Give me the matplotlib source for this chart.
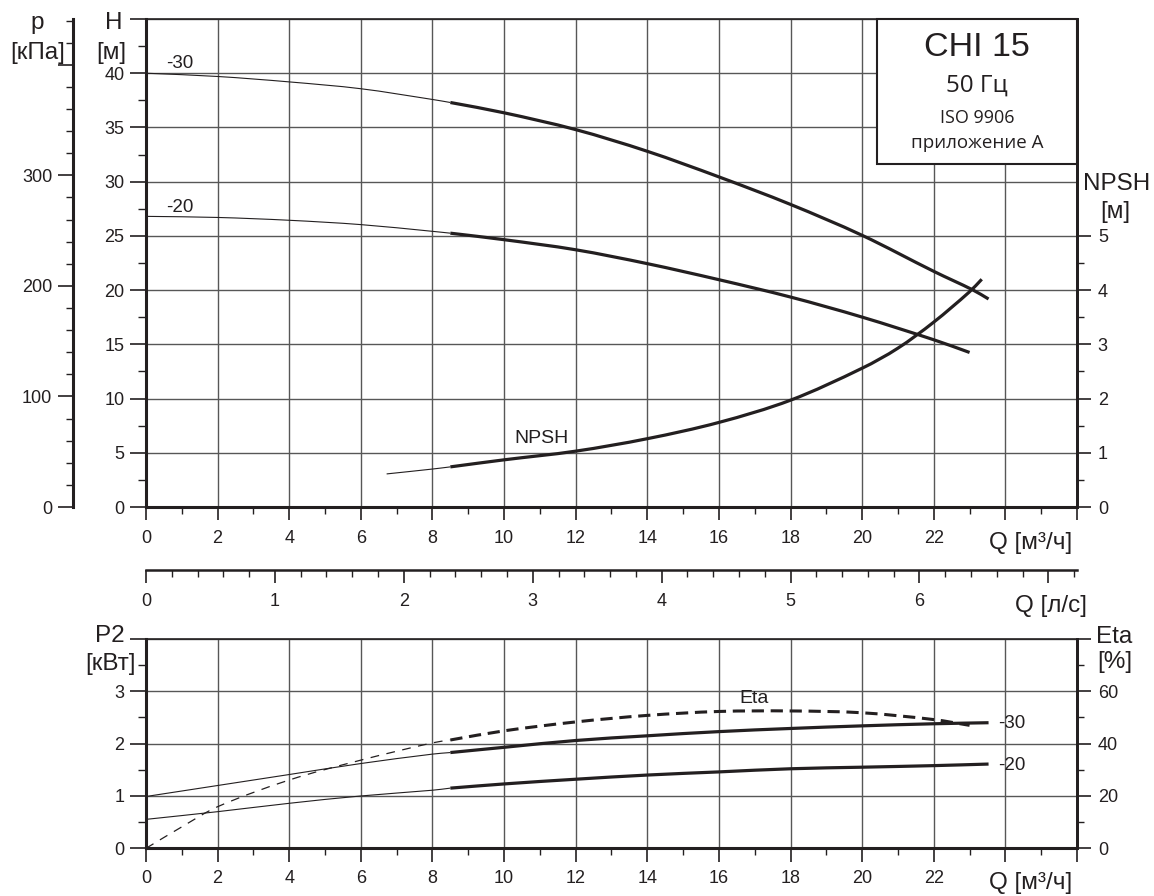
import numpy as np
import matplotlib
matplotlib.use("Agg")
import matplotlib.pyplot as plt
from matplotlib.ticker import MultipleLocator, FixedLocator, FuncFormatter
from matplotlib.patches import Rectangle, PathPatch
from matplotlib.path import Path

# ---------------------------------------------------------------------------
# CHI 15, 50 Hz pump curves (ISO 9906 annex A)
# ---------------------------------------------------------------------------
Q_DUTY = 8.5          # start of the recommended duty range, m3/h
M3H_PER_LS = 3.6      # 1 l/s = 3.6 m3/h
KPA_PER_M = 9.81      # 1 m water column = 9.81 kPa

# Head, impeller -30
q_h30 = [0, 2, 4, 6, 8, 8.5, 10, 12, 14, 16, 18, 20, 22, 23.1, 23.53]
h_30 = [40.0, 39.7, 39.2, 38.57, 37.58, 37.3, 36.35, 34.8, 32.8, 30.44,
        27.9, 25.05, 21.73, 20.0, 19.18]

# Head, impeller -20
q_h20 = [0, 2, 4, 6, 8, 8.5, 10, 12, 14, 16, 18, 20, 22, 23.0]
h_20 = [26.8, 26.7, 26.44, 26.04, 25.42, 25.25, 24.65, 23.72, 22.44, 20.96,
        19.36, 17.51, 15.42, 14.25]

# NPSH required, m
q_npsh = [6.72, 8, 8.5, 10, 12, 14, 16, 18, 20, 21, 22, 23, 23.34]
npsh = [0.61, 0.70, 0.74, 0.87, 1.03, 1.26, 1.56, 1.97, 2.56, 2.93, 3.41,
        3.97, 4.2]

# Shaft power P2, kW
q_p2 = [0, 2, 4, 6, 8, 8.5, 10, 12, 14, 16, 18, 20, 22, 23.53]
p2_30 = [0.99, 1.20, 1.41, 1.62, 1.80, 1.83, 1.93, 2.06, 2.15, 2.23, 2.29,
         2.34, 2.38, 2.40]
p2_20 = [0.553, 0.70, 0.86, 1.0, 1.11, 1.15, 1.23, 1.32, 1.40, 1.46, 1.52,
         1.55, 1.58, 1.61]

# Efficiency, %
q_eta = [0, 1, 2, 4, 6, 8, 8.5, 10, 12, 14, 16, 18, 20, 22, 23.0]
eta = [0, 8.2, 15.9, 26.1, 33.7, 40.3, 41.4, 44.9, 48.3, 50.8, 52.3, 52.5,
       51.8, 49.2, 47.0]

Q_MAX = 26
H_MAX = 45
P2_MAX = 4

INK = "#231f20"
GRID = "#575757"
FONT = "Liberation Sans"
BOX_FONT = "Open Sans"

plt.rcParams["font.family"] = [FONT, "DejaVu Sans"]
plt.rcParams["axes.unicode_minus"] = False

W, H = 1154, 896
fig = plt.figure(figsize=(W / 100, H / 100), dpi=100)


def px_rect(x0, y0, x1, y1):
    """Figure-fraction rectangle from pixel corners (top-left origin)."""
    return [x0 / W, 1 - y1 / H, (x1 - x0) / W, (y1 - y0) / H]


def ftext(x, y, s, size, family=None, ha="center", va="baseline"):
    fig.text(x / W, 1 - y / H, s, fontsize=size, ha=ha, va=va, color=INK,
             family=family or [FONT, "DejaVu Sans"])


def split(q, v, q0):
    q = np.asarray(q, float)
    v = np.asarray(v, float)
    a = q <= q0
    b = q >= q0
    return (q[a], v[a]), (q[b], v[b])


def smooth_path(x, y):
    """Cubic Hermite Bezier path passing through every (x, y) point."""
    x = np.asarray(x, float)
    y = np.asarray(y, float)
    n = len(x)
    if n < 3:
        return Path(np.column_stack([x, y]))
    m = np.empty(n)
    m[0] = (y[1] - y[0]) / (x[1] - x[0])
    m[-1] = (y[-1] - y[-2]) / (x[-1] - x[-2])
    m[1:-1] = (y[2:] - y[:-2]) / (x[2:] - x[:-2])
    verts = [(x[0], y[0])]
    codes = [Path.MOVETO]
    for i in range(n - 1):
        d = (x[i + 1] - x[i]) / 3
        verts += [(x[i] + d, y[i] + m[i] * d),
                  (x[i + 1] - d, y[i + 1] - m[i + 1] * d),
                  (x[i + 1], y[i + 1])]
        codes += [Path.CURVE4] * 3
    return Path(verts, codes)


def curve(axis, x, y, lw, ls="-"):
    axis.add_patch(PathPatch(smooth_path(x, y), facecolor="none",
                             edgecolor=INK, lw=lw, linestyle=ls,
                             capstyle="butt", joinstyle="round"))


def hide_from(limit, fmt="{:g}"):
    return FuncFormatter(lambda x, pos: "" if x >= limit - 1e-9 else fmt.format(x))


THIN = 0.8
THICK = 2.3
TICK_FS = 13

# ---------------------------------------------------------------------------
# Upper chart: head, pressure, NPSH
# ---------------------------------------------------------------------------
ax = fig.add_axes(px_rect(146, 19, 1077, 507))
ax.set_xlim(0, Q_MAX)
ax.set_ylim(0, H_MAX)
ax.xaxis.set_major_locator(MultipleLocator(2))
ax.xaxis.set_minor_locator(MultipleLocator(1))
ax.yaxis.set_major_locator(MultipleLocator(5))
ax.yaxis.set_minor_locator(MultipleLocator(2.5))
ax.xaxis.set_major_formatter(hide_from(24))
ax.yaxis.set_major_formatter(hide_from(45))
ax.grid(which="major", color=GRID, lw=1.0)
ax.set_axisbelow(True)
ax.tick_params(axis="x", which="major", length=9.5, width=1.2, pad=7,
               labelsize=TICK_FS, colors=INK)
ax.tick_params(axis="x", which="minor", length=5, width=1.0, colors=INK)
ax.tick_params(axis="y", which="major", length=11.5, width=1.2, pad=4,
               labelsize=TICK_FS, colors=INK)
ax.tick_params(axis="y", which="minor", length=5.8, width=1.0, colors=INK)
for side, lw in (("left", 2.2), ("bottom", 2.2), ("top", 1.2), ("right", 2.0)):
    ax.spines[side].set_linewidth(lw)
    ax.spines[side].set_color(INK)

for q, h in ((q_h30, h_30), (q_h20, h_20)):
    (qa, ha_), (qb, hb) = split(q, h, Q_DUTY)
    curve(ax, qa, ha_, THIN)
    curve(ax, qb, hb, THICK)

# pressure scale on the far left
axp = ax.twinx()
axp.set_ylim(0, H_MAX * KPA_PER_M)
axp.spines["left"].set_position(("axes", -73 / 931))
axp.spines["left"].set_visible(True)
axp.spines["left"].set_linewidth(2.2)
axp.spines["left"].set_color(INK)
for side in ("right", "top", "bottom"):
    axp.spines[side].set_visible(False)
axp.yaxis.set_ticks_position("left")
axp.yaxis.set_major_locator(MultipleLocator(100))
axp.yaxis.set_minor_locator(MultipleLocator(20))
axp.yaxis.set_major_formatter(hide_from(400))
axp.tick_params(axis="y", which="major", length=11, width=1.2, pad=4,
                labelsize=TICK_FS, colors=INK)
axp.tick_params(axis="y", which="minor", length=5.2, width=1.0, colors=INK)

# NPSH scale on the right
axn = ax.twinx()
axn.set_ylim(0, H_MAX / 5)
for side in ("left", "top", "bottom"):
    axn.spines[side].set_visible(False)
axn.spines["right"].set_linewidth(2.0)
axn.spines["right"].set_color(INK)
axn.yaxis.set_major_locator(FixedLocator(range(0, 6)))
axn.yaxis.set_minor_locator(FixedLocator(np.arange(0.5, 5, 1)))
axn.tick_params(axis="y", which="major", length=10, width=1.2, pad=5,
                labelsize=TICK_FS, colors=INK)
axn.tick_params(axis="y", which="minor", length=5, width=1.0, colors=INK)
(qa, na), (qb, nb) = split(q_npsh, npsh, Q_DUTY)
curve(axn, qa, na, THIN)
curve(axn, qb, nb, THICK)

# title block
axn.add_patch(Rectangle(((877 - 146) / 931, (507 - 164) / 488),
                        (1077 - 877) / 931, (164 - 19) / 488,
                        transform=ax.transAxes, facecolor="white",
                        edgecolor=INK, lw=1.5, clip_on=False, zorder=5))

# ---------------------------------------------------------------------------
# Flow scale in l/s
# ---------------------------------------------------------------------------
axl = fig.add_axes(px_rect(146, 569.99, 1077, 570))
axl.set_xlim(0, Q_MAX / M3H_PER_LS)
axl.patch.set_visible(False)
for side in ("left", "top", "right"):
    axl.spines[side].set_visible(False)
axl.spines["bottom"].set_linewidth(1.8)
axl.spines["bottom"].set_color(INK)
axl.set_yticks([])
axl.xaxis.set_major_locator(MultipleLocator(1))
axl.xaxis.set_minor_locator(MultipleLocator(0.2))
axl.xaxis.set_major_formatter(hide_from(7))
axl.tick_params(axis="x", which="major", length=9.5, width=1.2, pad=7,
                labelsize=TICK_FS, colors=INK)
axl.tick_params(axis="x", which="minor", length=5, width=1.0, colors=INK)

# ---------------------------------------------------------------------------
# Lower chart: power P2 and efficiency
# ---------------------------------------------------------------------------
axb = fig.add_axes(px_rect(146, 639, 1077, 848.3))
axb.set_xlim(0, Q_MAX)
axb.set_ylim(0, P2_MAX)
axb.xaxis.set_major_locator(MultipleLocator(2))
axb.xaxis.set_minor_locator(MultipleLocator(1))
axb.yaxis.set_major_locator(MultipleLocator(1))
axb.yaxis.set_minor_locator(MultipleLocator(0.5))
axb.xaxis.set_major_formatter(hide_from(24))
axb.yaxis.set_major_formatter(hide_from(4))
axb.grid(which="major", color=GRID, lw=1.0)
axb.set_axisbelow(True)
axb.tick_params(axis="x", which="major", length=10, width=1.2, pad=5.5,
                labelsize=TICK_FS, colors=INK)
axb.tick_params(axis="x", which="minor", length=5, width=1.0, colors=INK)
axb.tick_params(axis="y", which="major", length=11.5, width=1.2, pad=4,
                labelsize=TICK_FS, colors=INK)
axb.tick_params(axis="y", which="minor", length=5.8, width=1.0, colors=INK)
for side, lw in (("left", 2.2), ("bottom", 2.2), ("top", 1.2), ("right", 2.0)):
    axb.spines[side].set_linewidth(lw)
    axb.spines[side].set_color(INK)

for p in (p2_30, p2_20):
    (qa, pa), (qb, pb) = split(q_p2, p, Q_DUTY)
    curve(axb, qa, pa, THIN)
    curve(axb, qb, pb, THICK)

axe = axb.twinx()
axe.set_ylim(0, P2_MAX * 20)
for side in ("left", "top", "bottom"):
    axe.spines[side].set_visible(False)
axe.spines["right"].set_linewidth(2.0)
axe.spines["right"].set_color(INK)
axe.yaxis.set_major_locator(MultipleLocator(20))
axe.yaxis.set_minor_locator(MultipleLocator(10))
axe.yaxis.set_major_formatter(hide_from(80))
axe.tick_params(axis="y", which="major", length=10, width=1.2, pad=5,
                labelsize=TICK_FS, colors=INK)
axe.tick_params(axis="y", which="minor", length=5, width=1.0, colors=INK)
(qa, ea), (qb, eb) = split(q_eta, eta, Q_DUTY)
curve(axe, qa, ea, 0.9, ls=(0, (7, 6)))
curve(axe, qb, eb, 2.2, ls=(0, (4, 2.2)))

# ---------------------------------------------------------------------------
# Texts
# ---------------------------------------------------------------------------
AX_FS = 17.5
ftext(37.5, 29, "p", AX_FS)
ftext(38, 59.5, "[кПа]", AX_FS)
ftext(113.5, 29.3, "H", AX_FS)
ftext(111.5, 59.5, "[м]", AX_FS)
ftext(1116.5, 190, "NPSH", AX_FS)
ftext(1115, 218, "[м]", AX_FS)
ftext(1030.5, 549, "Q [м³/ч]", AX_FS)
ftext(1051, 611.5, "Q [л/с]", AX_FS)
ftext(109.5, 641.7, "P2", AX_FS)
ftext(111, 670, "[кВт]", AX_FS)
ftext(1114, 642.7, "Eta", AX_FS)
ftext(1114.5, 668, "[%]", AX_FS)
ftext(1030.5, 889, "Q [м³/ч]", AX_FS)

ftext(179.5, 68, "-30", 13.5)
ftext(179.5, 212, "-20", 13.5)
ftext(542, 443, "NPSH", 14)
ftext(754, 703, "Eta", 14)
ftext(1012, 728, "-30", 13.5)
ftext(1012, 770, "-20", 13.5)

ftext(977, 55.7, "CHI 15", 24.5)
ftext(977, 91.7, "50 Гц", 17.5, family=[BOX_FONT, "DejaVu Sans"])
ftext(977, 123.3, "ISO 9906", 13, family=[BOX_FONT, "DejaVu Sans"])
ftext(977, 148, "приложение А", 13.5, family=[BOX_FONT, "DejaVu Sans"])

fig.savefig("out.png", dpi=100)
